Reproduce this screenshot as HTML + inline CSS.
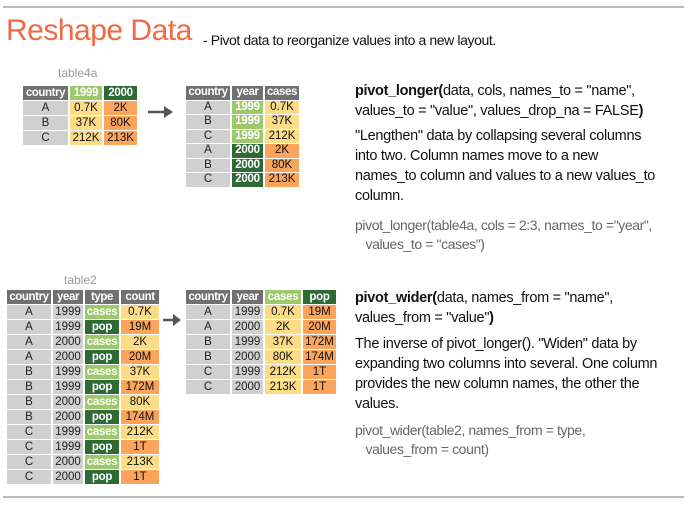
<!DOCTYPE html>
<html><head><meta charset="utf-8"><style>
body{margin:0;width:690px;height:508px;background:#fff;position:relative;overflow:hidden;font-family:"Liberation Sans",sans-serif;}
.a{position:absolute;white-space:nowrap}
table{position:absolute;border-collapse:separate;border-spacing:2px 1px;font-size:11.5px;text-align:center;table-layout:fixed}
td,th{padding:0;height:14px;line-height:14px;overflow:hidden;white-space:nowrap}
th{background:#707070;color:#fff;font-weight:bold;letter-spacing:-0.4px}
td.c{background:#d0d0d1;color:#222}
.lg{background:#9dc96c;color:#fff;font-weight:bold;letter-spacing:-0.3px}
.dg{background:#2f6a36;color:#fff;font-weight:bold;letter-spacing:-0.3px}
.y{background:#fddc88;color:#111}
.o{background:#fba45c;color:#111}
table.s td,table.s th{height:13.5px;line-height:13.5px}
.t{font-size:14.5px;color:#111;line-height:20px;letter-spacing:-0.3px}
.code{font-size:14px;color:#666;line-height:19px;letter-spacing:-0.4px}
</style></head><body>
<div class="a" style="left:3px;top:6px;width:681px;height:2px;background:#bbb"></div>
<div class="a" style="left:3px;top:496px;width:681px;height:2px;background:#bbb"></div>
<div class="a" style="left:6px;top:14px;font-size:30px;color:#ef6a44;letter-spacing:-0.5px">Reshape Data</div>
<div class="a" style="left:203px;top:32px;font-size:14px;color:#111;letter-spacing:-0.4px">- Pivot data to reorganize values into a new layout.</div>

<div class="a" style="left:58px;top:66px;font-size:12px;color:#999">table4a</div>
<table style="left:21px;top:85px">
<tr><th style="width:45px">country</th><th class="lg" style="width:32px">1999</th><th class="dg" style="width:33px">2000</th></tr>
<tr><td class="c">A</td><td class="y">0.7K</td><td class="o">2K</td></tr>
<tr><td class="c">B</td><td class="y">37K</td><td class="o">80K</td></tr>
<tr><td class="c">C</td><td class="y">212K</td><td class="o">213K</td></tr>
</table>
<svg class="a" style="left:146px;top:104px" width="30" height="16"><line x1="2" y1="8" x2="22" y2="8" stroke="#555" stroke-width="2.5"/><polygon points="18,2 27,8 18,14" fill="#555"/></svg>
<table class="s" style="left:184px;top:85px">
<tr><th style="width:44px">country</th><th style="width:31px">year</th><th style="width:34px">cases</th></tr>
<tr><td class="c">A</td><td class="lg">1999</td><td class="y">0.7K</td></tr>
<tr><td class="c">B</td><td class="lg">1999</td><td class="y">37K</td></tr>
<tr><td class="c">C</td><td class="lg">1999</td><td class="y">212K</td></tr>
<tr><td class="c">A</td><td class="dg">2000</td><td class="o">2K</td></tr>
<tr><td class="c">B</td><td class="dg">2000</td><td class="o">80K</td></tr>
<tr><td class="c">C</td><td class="dg">2000</td><td class="o">213K</td></tr>
</table>

<div class="a t" style="left:355px;top:81px"><b>pivot_longer(</b>data, cols, names_to = "name",<br>values_to = "value", values_drop_na = FALSE<b>)</b></div>
<div class="a t" style="left:355px;top:126px">"Lengthen" data by collapsing several columns<br>into two. Column names move to a new<br>names_to column and values to a new values_to<br>column.</div>
<div class="a code" style="left:355px;top:216px">pivot_longer(table4a, cols = 2:3, names_to ="year",<br>&nbsp;&nbsp;&nbsp;values_to = "cases")</div>

<div class="a" style="left:64px;top:273px;font-size:12px;color:#999">table2</div>
<table style="left:5px;top:289px">
<tr><th style="width:44px">country</th><th style="width:30px">year</th><th style="width:34px">type</th><th style="width:38px">count</th></tr>
<tr><td class="c">A</td><td class="c">1999</td><td class="lg">cases</td><td class="y">0.7K</td></tr>
<tr><td class="c">A</td><td class="c">1999</td><td class="dg">pop</td><td class="o">19M</td></tr>
<tr><td class="c">A</td><td class="c">2000</td><td class="lg">cases</td><td class="y">2K</td></tr>
<tr><td class="c">A</td><td class="c">2000</td><td class="dg">pop</td><td class="o">20M</td></tr>
<tr><td class="c">B</td><td class="c">1999</td><td class="lg">cases</td><td class="y">37K</td></tr>
<tr><td class="c">B</td><td class="c">1999</td><td class="dg">pop</td><td class="o">172M</td></tr>
<tr><td class="c">B</td><td class="c">2000</td><td class="lg">cases</td><td class="y">80K</td></tr>
<tr><td class="c">B</td><td class="c">2000</td><td class="dg">pop</td><td class="o">174M</td></tr>
<tr><td class="c">C</td><td class="c">1999</td><td class="lg">cases</td><td class="y">212K</td></tr>
<tr><td class="c">C</td><td class="c">1999</td><td class="dg">pop</td><td class="o">1T</td></tr>
<tr><td class="c">C</td><td class="c">2000</td><td class="lg">cases</td><td class="y">213K</td></tr>
<tr><td class="c">C</td><td class="c">2000</td><td class="dg">pop</td><td class="o">1T</td></tr>
</table>
<svg class="a" style="left:162px;top:313px" width="22" height="14"><line x1="1" y1="7" x2="14" y2="7" stroke="#555" stroke-width="2.5"/><polygon points="11,1 19,7 11,13" fill="#555"/></svg>
<table style="left:184px;top:289px">
<tr><th style="width:44px">country</th><th style="width:31px">year</th><th class="lg" style="width:36px">cases</th><th class="dg" style="width:33px">pop</th></tr>
<tr><td class="c">A</td><td class="c">1999</td><td class="y">0.7K</td><td class="o">19M</td></tr>
<tr><td class="c">A</td><td class="c">2000</td><td class="y">2K</td><td class="o">20M</td></tr>
<tr><td class="c">B</td><td class="c">1999</td><td class="y">37K</td><td class="o">172M</td></tr>
<tr><td class="c">B</td><td class="c">2000</td><td class="y">80K</td><td class="o">174M</td></tr>
<tr><td class="c">C</td><td class="c">1999</td><td class="y">212K</td><td class="o">1T</td></tr>
<tr><td class="c">C</td><td class="c">2000</td><td class="y">213K</td><td class="o">1T</td></tr>
</table>

<div class="a t" style="left:355px;top:288px"><b>pivot_wider(</b>data, names_from = "name",<br>values_from = "value"<b>)</b></div>
<div class="a t" style="left:355px;top:334px">The inverse of pivot_longer(). "Widen" data by<br>expanding two columns into several. One column<br>provides the new column names, the other the<br>values.</div>
<div class="a code" style="left:355px;top:421px">pivot_wider(table2, names_from = type,<br>&nbsp;&nbsp;&nbsp;values_from = count)</div>
</body></html>
